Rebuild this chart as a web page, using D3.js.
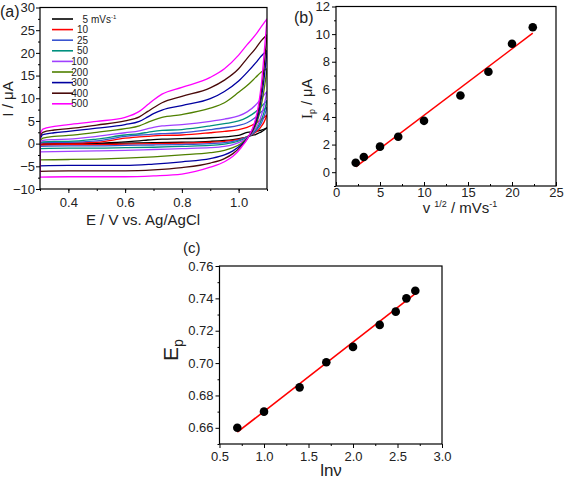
<!DOCTYPE html>
<html><head><meta charset="utf-8">
<script src="https://cdn.jsdelivr.net/npm/d3@7"></script>
<style>body{margin:0;background:#fff}svg{font-family:"Liberation Sans",Arial,sans-serif}</style>
</head><body><svg id="c" width="567" height="480"></svg>
<script>
// ---------- Panel (a) data: cyclic voltammograms ----------
const scanRates = ["5", "10", "25", "50", "100", "200", "300", "400", "500"];
const scanColors = ["#000000", "#ff0000", "#3a55d0", "#00907e", "#a040ff", "#4f8000", "#0000a0", "#4a0a0a", "#ff00ff"];
const ePotForward = [0.30, 0.31, 0.35, 0.40, 0.50, 0.60, 0.65, 0.68, 0.70, 0.73, 0.80, 0.90, 0.95, 1.00, 1.03, 1.06, 1.08, 1.10];
const ePotReverse = [1.10, 1.09, 1.08, 1.07, 1.06, 1.05, 1.04, 1.03, 1.01, 0.98, 0.95, 0.90, 0.80, 0.70, 0.60, 0.50, 0.40, 0.30];

const fwd5   = [-0.2, 0.0, 0.0, 0.0, 0.1, 0.4, 0.6, 0.8, 0.9, 1.0, 1.1, 1.3, 1.5, 1.8, 2.5, 2.7, 3.0, 3.5];
const fwd10  = [-0.1, 0.1, 0.1, 0.1, 0.3, 1.2, 1.5, 1.6, 1.7, 1.8, 1.9, 2.4, 2.7, 3.1, 3.6, 4.5, 5.3, 6.3];
const fwd25  = [0.0, 0.2, 0.3, 0.3, 0.6, 1.6, 1.9, 2.0, 2.1, 2.2, 2.4, 3.1, 3.5, 4.0, 4.6, 5.8, 7.0, 8.0];
const fwd50  = [0.1, 0.4, 0.5, 0.5, 1.0, 1.9, 2.2, 2.5, 2.7, 2.9, 3.1, 3.9, 4.4, 5.0, 5.8, 7.0, 8.2, 9.5];
const fwd100 = [0.3, 0.7, 0.9, 1.0, 1.6, 2.4, 2.8, 3.3, 3.6, 3.9, 4.2, 4.9, 5.4, 6.1, 7.0, 8.5, 10.0, 11.5];
const fwd200 = [0.6, 1.2, 1.6, 1.8, 2.5, 3.3, 3.9, 4.7, 5.2, 5.8, 6.4, 7.8, 9.0, 11.3, 12.8, 14.6, 15.8, 16.5];
const fwd300 = [1.0, 2.0, 2.4, 2.7, 3.4, 4.2, 4.9, 5.9, 6.6, 7.4, 8.4, 9.9, 11.5, 13.8, 15.7, 17.8, 19.3, 20.5];
const fwd400 = [1.5, 2.5, 3.0, 3.3, 4.1, 5.0, 5.9, 7.1, 7.9, 9.0, 10.4, 12.3, 14.0, 16.5, 18.8, 21.0, 22.7, 24.0];
const fwd500 = [2.0, 3.2, 3.8, 4.2, 4.9, 5.8, 7.1, 8.6, 9.6, 10.9, 12.4, 14.6, 16.5, 19.5, 21.8, 24.0, 25.8, 27.5];

const rev5   = [3.5, 3.0, 2.6, 2.3, 2.0, 1.9, 1.7, 1.5, 1.2, 0.9, 0.7, 0.5, 0.3, 0.2, 0.1, 0.0, -0.1, -0.2];
const rev10  = [6.3, 4.8, 3.8, 3.0, 2.5, 2.1, 1.8, 1.5, 1.1, 0.7, 0.5, 0.3, 0.1, 0.0, -0.1, -0.2, -0.2, -0.3];
const rev25  = [8.0, 6.0, 4.5, 3.5, 2.7, 2.2, 1.8, 1.5, 1.0, 0.5, 0.2, 0.0, -0.2, -0.3, -0.4, -0.5, -0.5, -0.6];
const rev50  = [9.5, 7.0, 5.2, 3.9, 3.0, 2.3, 1.8, 1.4, 0.8, 0.2, -0.1, -0.4, -0.6, -0.8, -0.9, -1.0, -1.0, -1.1];
const rev100 = [11.5, 8.5, 6.2, 4.5, 3.3, 2.5, 1.8, 1.3, 0.5, -0.2, -0.6, -0.9, -1.1, -1.3, -1.5, -1.6, -1.7, -1.8];
const rev200 = [16.5, 12.0, 8.5, 5.8, 4.0, 2.8, 1.9, 1.2, 0.1, -0.9, -1.5, -2.0, -2.5, -2.9, -3.2, -3.4, -3.5, -3.6];
const rev300 = [20.5, 14.5, 10.0, 6.5, 4.5, 3.0, 2.0, 1.1, -0.2, -1.6, -2.5, -3.3, -4.0, -4.5, -4.8, -4.8, -4.8, -4.9];
const rev400 = [24.0, 17.0, 11.5, 7.5, 5.0, 3.2, 2.1, 1.0, -0.5, -2.2, -3.3, -4.3, -5.3, -5.8, -6.0, -6.0, -6.0, -6.1];
const rev500 = [27.5, 20.0, 13.0, 8.5, 5.5, 3.5, 2.2, 1.0, -0.8, -2.8, -4.0, -5.2, -6.7, -7.1, -7.3, -7.3, -7.3, -7.4];

const cvForward = [fwd5, fwd10, fwd25, fwd50, fwd100, fwd200, fwd300, fwd400, fwd500];
const cvReverse = [rev5, rev10, rev25, rev50, rev100, rev200, rev300, rev400, rev500];

// ---------- Panel (b) data ----------
const sqrtScanRate = [2.24, 3.16, 5.0, 7.07, 10.0, 14.14, 17.32, 20.0, 22.36];
const peakCurrent = [0.68, 1.1, 1.85, 2.57, 3.72, 5.55, 7.27, 9.3, 10.5];
const fitBX = [2.24, 22.36];
const fitBY = [0.38, 10.07];

// ---------- Panel (c) data ----------
const lnScanRate = [0.70, 1.00, 1.40, 1.70, 2.00, 2.30, 2.48, 2.60, 2.70];
const peakPotential = [0.660, 0.670, 0.685, 0.7005, 0.710, 0.7236, 0.7318, 0.740, 0.7447];
const fitCX = [0.70, 2.70];
const fitCY = [0.6573, 0.7430];

// ---------- Drawing ----------
const svg = d3.select("#c");
const FONT = '"Liberation Sans",Arial,sans-serif';

function frame(g, x, y) {
  g.append("rect").attr("x", x.range()[0]).attr("y", y.range()[1])
    .attr("width", x.range()[1] - x.range()[0]).attr("height", y.range()[0] - y.range()[1])
    .attr("fill", "none").attr("stroke", "#000").attr("stroke-width", 1.2);
}
function axes(g, x, y, o) {
  const y0 = y.range()[0], x0 = x.range()[0];
  g.append("g").attr("transform", `translate(0,${y0})`)
    .call(d3.axisBottom(x).tickValues(o.xt).tickFormat(o.xfmt).tickSize(o.xsize).tickPadding(o.xpad));
  g.append("g").attr("transform", `translate(0,${y0})`)
    .call(d3.axisBottom(x).tickValues(o.xm).tickFormat("").tickSize(o.xsize / 2));
  g.append("g").attr("transform", `translate(${x0},0)`)
    .call(d3.axisLeft(y).tickValues(o.yt).tickFormat(o.yfmt).tickSize(o.ysize).tickPadding(o.ypad));
  g.append("g").attr("transform", `translate(${x0},0)`)
    .call(d3.axisLeft(y).tickValues(o.ym).tickFormat("").tickSize(o.ysize / 2));
  g.selectAll(".domain").remove();
  g.selectAll(".tick line").attr("stroke", "#000");
  g.selectAll(".tick text").attr("font-family", FONT).attr("font-size", o.fs).attr("fill", "#222");
}

// Panel (a)
{
  const g = svg.append("g");
  const x = d3.scaleLinear().domain([0.3, 1.1]).range([40, 267]);
  const y = d3.scaleLinear().domain([-10, 30]).range([189, 7.5]);
  svg.append("defs").append("clipPath").attr("id", "clipA").append("rect")
    .attr("x", 40).attr("y", 7.5).attr("width", 227).attr("height", 181.5);
  const line = d3.line().x(d => x(d[0])).y(d => y(d[1])).curve(d3.curveMonotoneX);
  const cg = g.append("g").attr("clip-path", "url(#clipA)");
  scanRates.forEach((r, i) => {
    const f = ePotForward.map((e, k) => [e, cvForward[i][k]]);
    const rv = ePotReverse.map((e, k) => [e, cvReverse[i][k]]).reverse();
    [f, rv].forEach(pts => cg.append("path").attr("d", line(pts)).attr("fill", "none")
      .attr("stroke", scanColors[i]).attr("stroke-width", 1.3));
    cg.append("line").attr("x1", x(0.3)).attr("x2", x(0.3))
      .attr("y1", y(f[0][1])).attr("y2", y(rv[0][1])).attr("stroke", scanColors[i]).attr("stroke-width", 1.3);
  });
  axes(g, x, y, {xt: [0.4, 0.6, 0.8, 1.0], xm: d3.range(0.3, 1.101, 0.1), yt: d3.range(-10, 30.1, 5),
    ym: d3.range(-7.5, 30, 5), xfmt: d3.format(".1f"), yfmt: d3.format("d"), fs: 13,
    xsize: 4, xpad: 5, ysize: 4, ypad: 1});
  frame(g, x, y);
  // legend
  const lg = g.append("g");
  scanRates.forEach((r, i) => {
    const yy = 19 + i * 10.6;
    lg.append("line").attr("x1", 52).attr("x2", 73).attr("y1", yy).attr("y2", yy)
      .attr("stroke", scanColors[i]).attr("stroke-width", 1.6);
    lg.append("text").attr("x", 88).attr("y", yy + 3.5).attr("font-size", 10)
      .attr("text-anchor", "end").attr("fill", "#222").text(r);
    if (i === 0) {
      const t2 = lg.append("text").attr("x", 91).attr("y", yy + 3.5).attr("font-size", 10).attr("fill", "#222");
      t2.append("tspan").text("mVs");
      t2.append("tspan").attr("font-size", 6).attr("dy", -4).text("-1");
    }
  });
  g.append("text").attr("x", 143).attr("y", 225).attr("text-anchor", "middle")
    .attr("font-size", 15).attr("fill", "#222").text("E / V vs. Ag/AgCl");
  g.append("text").attr("transform", "translate(13,99) rotate(-90)").attr("text-anchor", "middle")
    .attr("font-size", 15).attr("fill", "#222").text("I / μA");
  g.append("text").attr("x", 0).attr("y", 17).attr("font-size", 16).attr("fill", "#222").text("(a)");
}

// Panel (b)
{
  const g = svg.append("g");
  const x = d3.scaleLinear().domain([0, 25]).range([336, 556]);
  const y = d3.scaleLinear().domain([-1, 12]).range([186, 6.5]);
  axes(g, x, y, {xt: d3.range(0, 25.1, 5), xm: d3.range(2.5, 25, 5), yt: d3.range(0, 12.1, 2),
    ym: d3.range(-1, 12, 2), xfmt: d3.format("d"), yfmt: d3.format("d"), fs: 13,
    xsize: -4, xpad: 2, ysize: 4, ypad: 2});
  frame(g, x, y);
  g.append("line").attr("x1", x(fitBX[0])).attr("x2", x(fitBX[1])).attr("y1", y(fitBY[0])).attr("y2", y(fitBY[1]))
    .attr("stroke", "#ff0000").attr("stroke-width", 1.5);
  g.selectAll("circle.pb").data(sqrtScanRate).enter().append("circle")
    .attr("cx", d => x(d)).attr("cy", (d, i) => y(peakCurrent[i])).attr("r", 4.3).attr("fill", "#000");
  const xl = g.append("text").attr("x", 460).attr("y", 213).attr("text-anchor", "middle")
    .attr("font-size", 15).attr("fill", "#222");
  xl.append("tspan").text("v ");
  xl.append("tspan").attr("font-size", 9).attr("dy", -6).text(" 1/2");
  xl.append("tspan").attr("dy", 6).text(" / mVs");
  xl.append("tspan").attr("font-size", 9).attr("dy", -6).text("-1");
  const yl = g.append("text").attr("transform", "translate(312,99) rotate(-90)").attr("text-anchor", "middle")
    .attr("font-size", 14.5).attr("fill", "#222");
  yl.append("tspan").attr("font-family", '"Liberation Serif",serif').attr("font-size", 15).text("I");
  yl.append("tspan").attr("font-size", 9).attr("dy", 3).text("p");
  yl.append("tspan").attr("dy", -3).text(" / μA");
  g.append("text").attr("x", 294).attr("y", 23).attr("font-size", 16).attr("fill", "#222").text("(b)");
}

// Panel (c)
{
  const g = svg.append("g");
  const x = d3.scaleLinear().domain([0.5, 3.0]).range([219.5, 442]);
  const y = d3.scaleLinear().domain([0.65, 0.76]).range([444, 266]);
  axes(g, x, y, {xt: d3.range(0.5, 3.01, 0.5), xm: d3.range(0.75, 3, 0.5), yt: d3.range(0.66, 0.7601, 0.02),
    ym: d3.range(0.65, 0.76, 0.02), xfmt: d3.format(".1f"), yfmt: d3.format(".2f"), fs: 13,
    xsize: 4, xpad: 4, ysize: 4, ypad: 2});
  frame(g, x, y);
  g.append("line").attr("x1", x(fitCX[0])).attr("x2", x(fitCX[1])).attr("y1", y(fitCY[0])).attr("y2", y(fitCY[1]))
    .attr("stroke", "#ff0000").attr("stroke-width", 1.6);
  g.selectAll("circle.pc").data(lnScanRate).enter().append("circle")
    .attr("cx", d => x(d)).attr("cy", (d, i) => y(peakPotential[i])).attr("r", 4.3).attr("fill", "#000");
  g.append("text").attr("x", 331).attr("y", 476).attr("text-anchor", "middle")
    .attr("font-size", 17).attr("fill", "#222").text("lnν");
  const yl = g.append("text").attr("transform", "translate(178,350) rotate(-90)").attr("text-anchor", "middle")
    .attr("font-size", 21).attr("fill", "#222");
  yl.append("tspan").text("E");
  yl.append("tspan").attr("font-size", 14).attr("dy", 5).text("p");
  g.append("text").attr("x", 183).attr("y", 253).attr("font-size", 15).attr("fill", "#222").text("(c)");
}
</script></body></html>
